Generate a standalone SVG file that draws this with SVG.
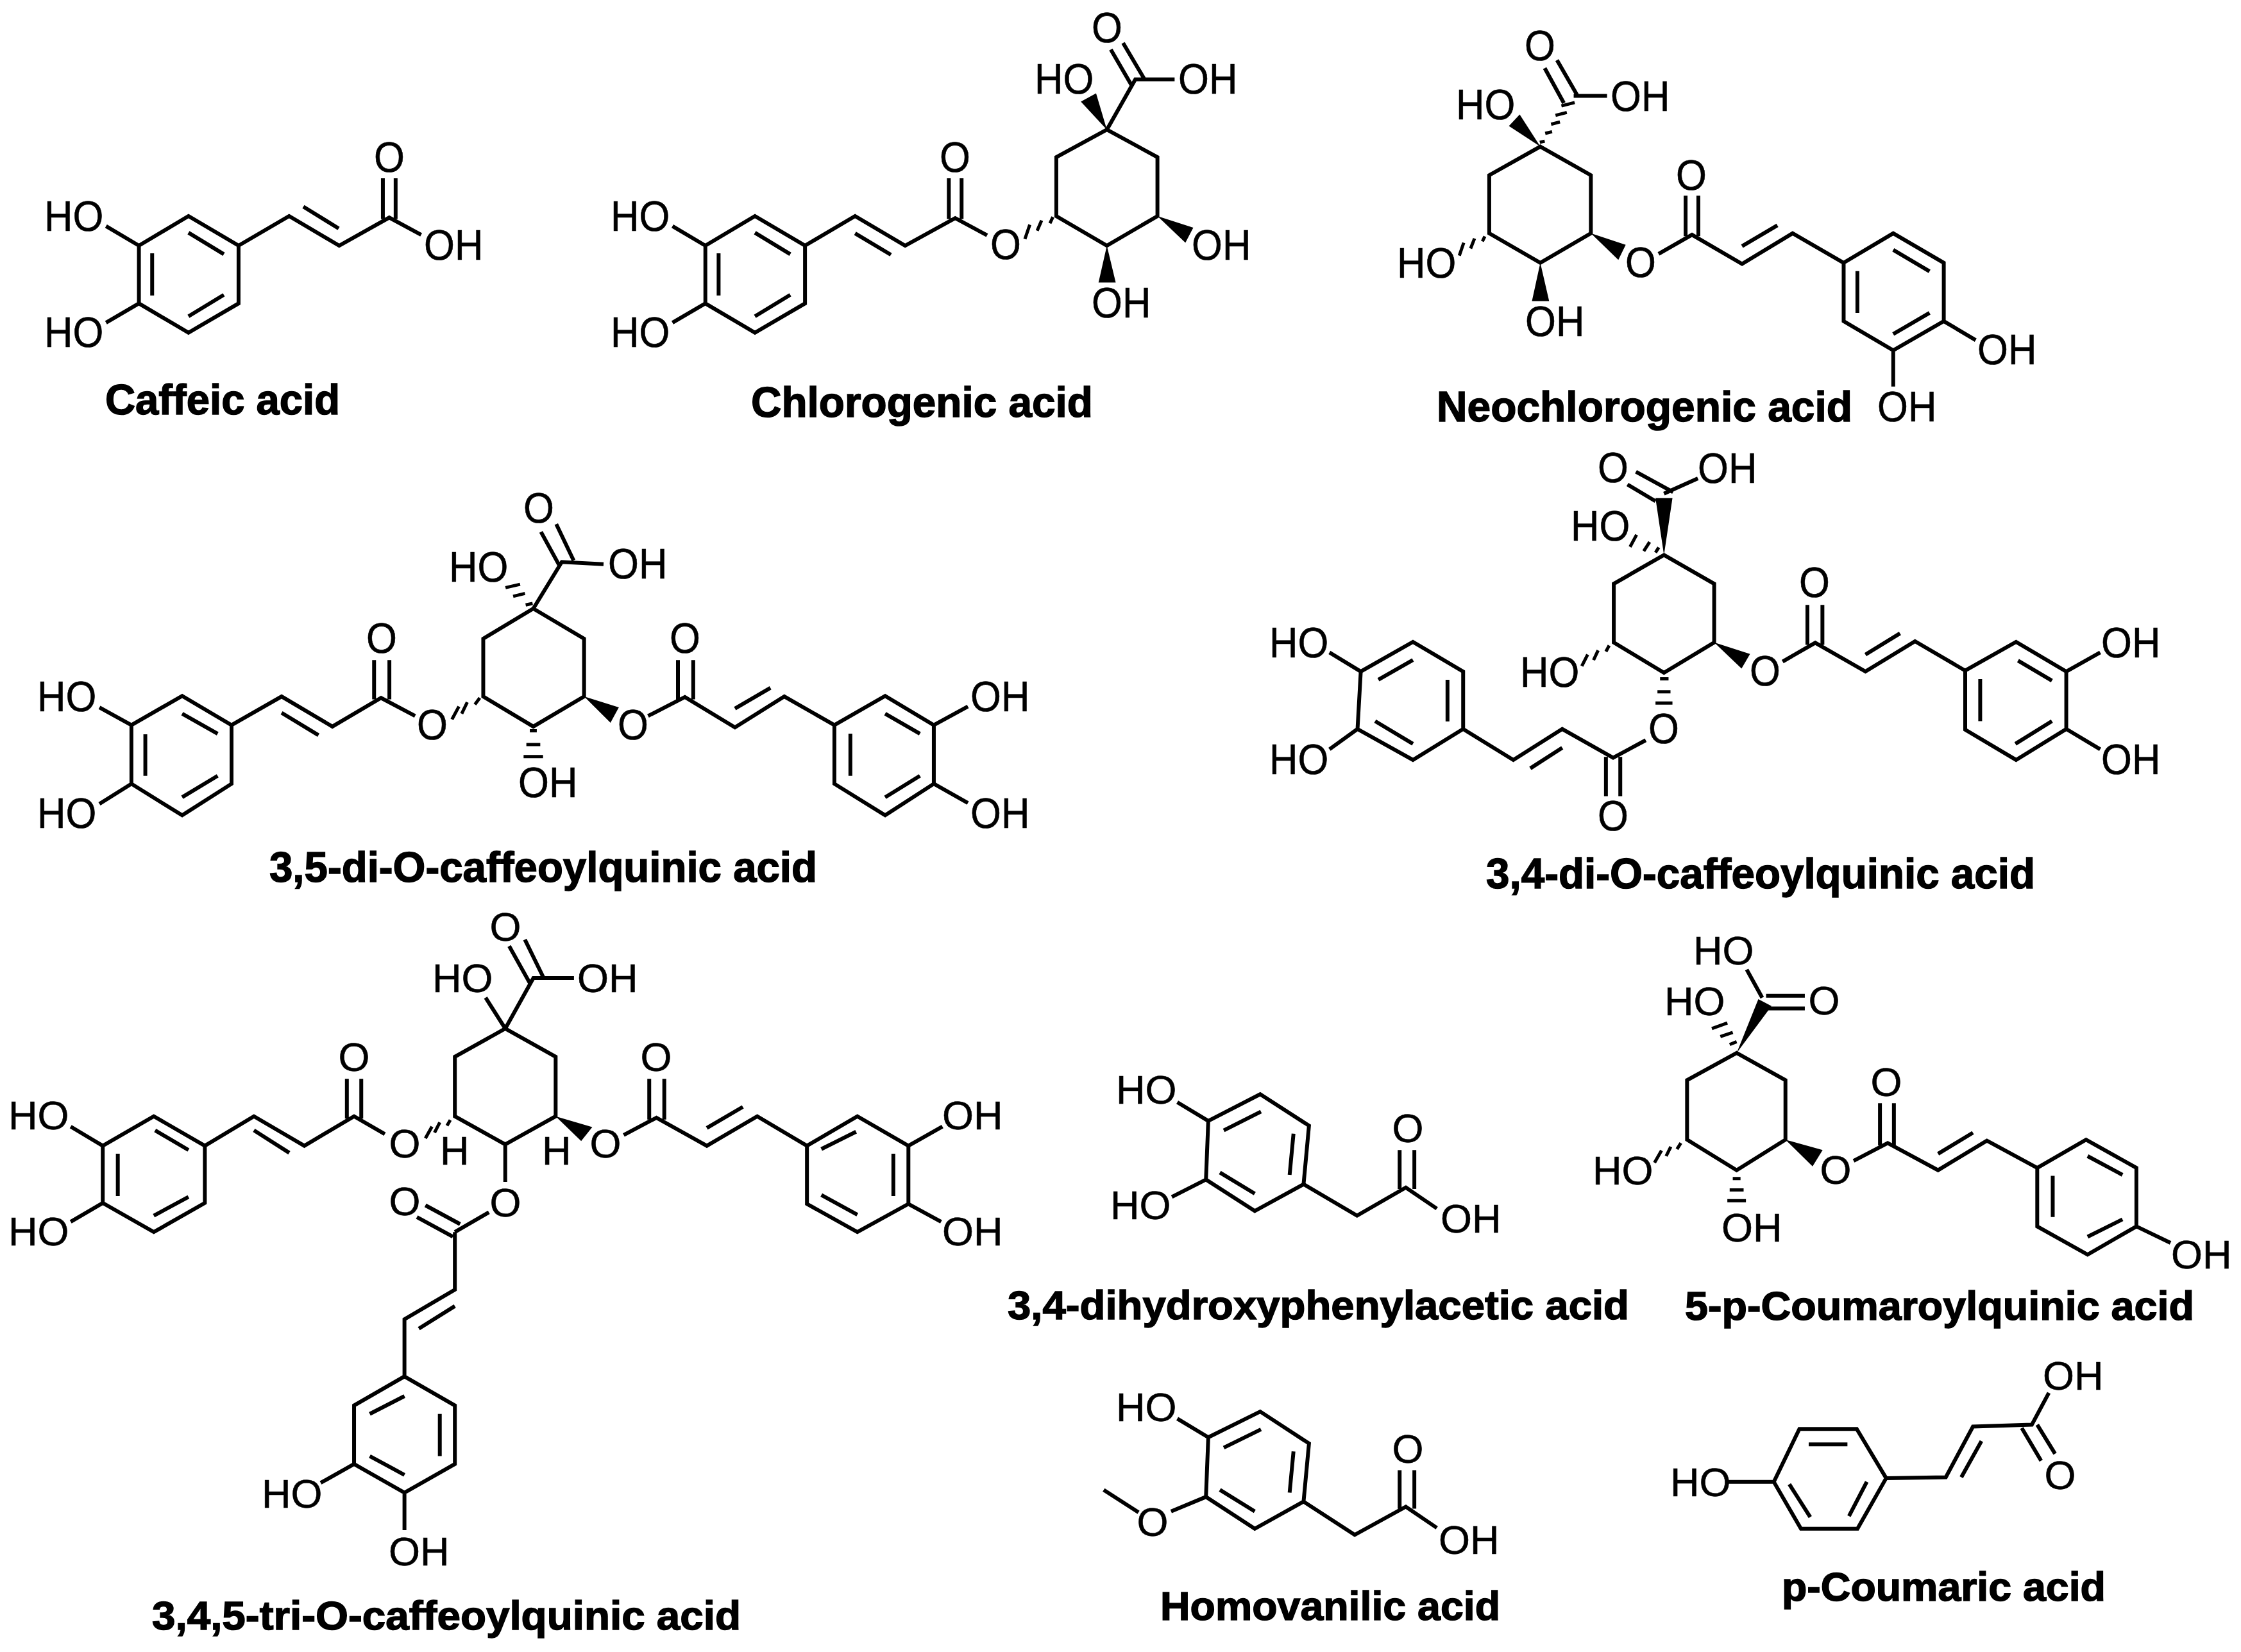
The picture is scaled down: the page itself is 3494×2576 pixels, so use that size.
<svg xmlns="http://www.w3.org/2000/svg" width="3494" height="2576" viewBox="0 0 3494 2576">
<style>
.b{fill:none;stroke:#000;stroke-width:6;vector-effect:non-scaling-stroke;stroke-linejoin:miter;stroke-linecap:butt}
.h{fill:none;stroke:#000;stroke-width:5;vector-effect:non-scaling-stroke}
.w{fill:#000;stroke:none}
text{font-family:"Liberation Sans",Arial,sans-serif;fill:#000}
.l{font-size:63px;stroke:#000;stroke-width:.6px}
.c{font-size:63px;text-anchor:middle;stroke:#000;stroke-width:.6px}
.t{font-size:63px;font-weight:bold;stroke:#000;stroke-width:1.5px}
.lg .l{font-size:67px;transform-box:fill-box;transform-origin:0 0;transform:scaleX(.92)}
.lg .c{font-size:67px;transform-box:fill-box;transform-origin:50% 50%;transform:scaleX(.92)}
.lg .t{font-size:67px}
</style>
<rect width="3494" height="2576" fill="#fff"/>

<g id="caffeic-acid" class="lg">
<g transform="matrix(.7653 0 0 .4464 0 0)">
<path class="b" d="M283,858L384,755L486,858L486,1060L384,1162L283,1060ZM310,885V1032M384,813L456,888M384,1105L456,1030M486,858L589,755L691,858L793,760L858,820M618,722L690,798M780,623V765M806,623V765M283,858L216,790M283,1060L216,1127"/>
</g>
<text class="l" x="69" y="360">HO</text><text class="l" x="69" y="541">HO</text><text class="c" x="607" y="268">O</text><text class="l" x="661" y="405">OH</text>
<text class="t" x="164" y="646" textLength="366" lengthAdjust="spacingAndGlyphs">Caffeic acid</text>
</g>

<g id="chlorogenic-acid" class="lg">
<g transform="matrix(.7653 0 0 .4464 1200 0)">
<path class="b" d="M-131,858L-30,755L72,858L72,1060L-30,1162L-131,1060ZM-104,885V1032M-30,813L42,888M-30,1105L42,1030M-131,858L-198,790M-131,1060L-198,1127M72,858L174,755L276,858L378,762L443,822M174,815L247,890M365,623V765M391,623V765M687,453L790,549L790,755L687,858L584,755L584,549ZM687,453L745,277L825,277M720,150L763,275M695,173L738,300"/>
<path class="h" d="M577,758L571,780M554,770L545,806M530,785L520,835"/>
<polygon class="w" points="687,453 634,355 665,326"/><polygon class="w" points="790,755 863,795 847,848"/><polygon class="w" points="687,858 670,987 705,987"/>
</g>
<text class="l" x="952" y="360">HO</text><text class="l" x="952" y="541">HO</text><text class="c" x="1489" y="268">O</text><text class="c" x="1568" y="404">O</text><text class="c" x="1726" y="66">O</text><text class="l" x="1613" y="146">HO</text><text class="l" x="1837" y="146">OH</text><text class="l" x="1858" y="405">OH</text><text class="l" x="1702" y="495">OH</text>
<text class="t" x="1171" y="650" textLength="533" lengthAdjust="spacingAndGlyphs">Chlorogenic acid</text>
</g>

<g id="neochlorogenic-acid" class="lg">
<g transform="matrix(.7653 0 0 .4464 2100 0)">
<path class="b" d="M394,512L497,612L497,815L394,918L290,815L290,612ZM462,335L530,335M428,210L470,335M403,238L442,360M635,887L703,820L805,922L908,815L1012,918M805,860L877,787M690,683V825M716,683V825M1012,918L1113,815L1216,918L1216,1122L1113,1224L1012,1122ZM1040,947V1093M1113,873L1187,948M1113,1167L1187,1093M1216,1122L1281,1188M1113,1224V1350"/>
<path class="h" d="M393,497L403,493M404,466L418,460M416,434L434,426M425,403L448,393M437,370L464,358M281,826L276,843M260,833L252,868M238,848L229,893"/>
<polygon class="w" points="394,512 330,440 352,400"/><polygon class="w" points="394,918 377,1052 412,1052"/><polygon class="w" points="497,815 568,855 553,908"/>
</g>
<text class="c" x="2401" y="94">O</text><text class="l" x="2511" y="173">OH</text><text class="l" x="2270" y="186">HO</text><text class="l" x="2178" y="433">HO</text><text class="l" x="2378" y="524">OH</text><text class="c" x="2558" y="432">O</text><text class="c" x="2637" y="296">O</text><text class="l" x="3083" y="568">OH</text><text class="l" x="2927" y="657">OH</text>
<text class="t" x="2240" y="657" textLength="648" lengthAdjust="spacingAndGlyphs">Neochlorogenic acid</text>
</g>

<g id="di-caffeoylquinic-3-5" class="lg">
<g transform="matrix(1.0841 0 0 .4464 0 720)">
<path class="b" d="M189,920L262,818L333,920L333,1125L262,1235L189,1125ZM209,952V1097M262,880L313,950M262,1172L313,1097M189,920L143,858M189,1125L143,1195M333,920L405,820L478,925L548,825L597,888M405,877L458,955M538,693V830M560,693V830M767,513L840,618L840,820L767,925L695,820L695,618ZM767,513L808,350L868,358M800,218L825,345M778,245L805,365M932,888L985,822L1057,928L1128,820L1200,920M1057,862L1108,790M975,693V830M997,693V830M1200,920L1273,818L1343,920L1343,1125L1273,1235L1200,1125ZM1223,950V1097M1273,880L1323,950M1273,1172L1323,1097M1343,920L1392,855M1343,1125L1392,1192"/>
<path class="h" d="M690,825L683,848M672,840L664,880M660,855L650,900M756,500L766,495M738,470L755,460M727,440L748,428M762,940H772M757,988H777M753,1030H781"/>
<polygon class="w" points="840,820 890,858 878,912"/>
</g>
<text class="l" x="58" y="1109">HO</text><text class="l" x="58" y="1291">HO</text><text class="c" x="595" y="1018">O</text><text class="c" x="674" y="1153">O</text><text class="l" x="700" y="907">HO</text><text class="c" x="840" y="815">O</text><text class="l" x="948" y="902">OH</text><text class="c" x="987" y="1153">O</text><text class="l" x="808" y="1243">OH</text><text class="c" x="1068" y="1018">O</text><text class="l" x="1513" y="1109">OH</text><text class="l" x="1513" y="1291">OH</text>
<text class="t" x="420" y="1375" textLength="854" lengthAdjust="spacingAndGlyphs">3,5-di-O-caffeoylquinic acid</text>
</g>

<g id="di-caffeoylquinic-3-4" class="lg">
<g transform="matrix(1.0166 0 0 .4719 1900 680)">
<path class="b" d="M683,393L760,488L760,682L683,782L606,682L606,488ZM683,190L735,140M640,118L697,185M627,160L670,215M655,1005L605,1063L527,968L452,1070L375,968M594,1060V1190M616,1060V1190M527,1030L478,1098M375,968L298,1070L213,968L218,778L298,680L375,778ZM351,805V943M298,740L245,805M298,1017L240,942M218,778L170,715M213,968L170,1035M865,745L915,683L992,778L1068,678L1145,775M992,722L1045,652M903,558V690M926,558V690M1145,775L1223,680L1300,778L1300,968L1223,1070L1145,970ZM1168,803V942M1226,742L1278,808M1222,1017L1278,942M1300,778L1352,715M1300,968L1352,1035"/>
<path class="h" d="M675,368L670,385M661,350L652,380M641,326L631,366M599,692L594,712M582,708L575,740M566,722L557,760M677,802H690M673,845H693M670,882H696"/>
<polygon class="w" points="683,393 670,205 696,205"/><polygon class="w" points="760,682 815,720 802,768"/>
</g>
<text class="c" x="2515" y="752">O</text><text class="l" x="2647" y="753">OH</text><text class="l" x="2449" y="843">HO</text><text class="l" x="2370" y="1071">HO</text><text class="c" x="2594" y="1159">O</text><text class="c" x="2515" y="1295">O</text><text class="l" x="1979" y="1025">HO</text><text class="l" x="1979" y="1207">HO</text><text class="c" x="2752" y="1069">O</text><text class="c" x="2829" y="931">O</text><text class="l" x="3276" y="1025">OH</text><text class="l" x="3276" y="1207">OH</text>
<text class="t" x="2317" y="1385" textLength="856" lengthAdjust="spacingAndGlyphs">3,4-di-O-caffeoylquinic acid</text>
</g>

<g id="tri-caffeoylquinic">
<g transform="matrix(1.0204 0 0 .7309 0 1430)">
<path class="b" d="M772,238L849,298L849,425L772,485L695,425L695,298ZM772,238L742,172M772,238L815,130L877,130M802,48L830,128M778,62L810,142M313,488L235,425L157,488L157,610L235,672L313,610ZM180,505V595M237,455L288,497M235,637L288,597M157,488L108,447M157,610L108,650M313,488L388,425L465,488L541,425L588,463M388,455L442,503M530,345V430M552,345V430M772,485V565M747,630L695,672M650,615L703,655M637,640L692,682M695,672V795L618,858V980M695,830L640,878M953,465L1003,428L1080,488L1157,425L1233,488M1080,450L1135,405M992,345V432M1015,345V432M1233,488L1310,425L1388,488L1388,612L1310,672L1233,612ZM1255,495L1308,458M1365,505V595M1255,593L1310,635M1388,488L1440,447M1388,612L1438,650M618,980L695,1042L695,1167L618,1228L541,1167L541,1042ZM672,1060V1150M565,1060L618,1022M565,1150L618,1190M541,1167L490,1207M618,1228V1308"/>
<path class="h" d="M688,433L683,445M672,438L664,460M660,447L650,472"/>
<polygon class="w" points="849,425 905,448 888,478"/>
</g>
<text class="l" x="674" y="1547">HO</text><text class="c" x="788" y="1467">O</text><text class="l" x="900" y="1547">OH</text><text class="l" x="13" y="1761">HO</text><text class="l" x="13" y="1942">HO</text><text class="c" x="552" y="1670">O</text><text class="c" x="631" y="1805">O</text><text class="l" x="686" y="1816">H</text><text class="l" x="845" y="1816">H</text><text class="c" x="944" y="1805">O</text><text class="c" x="788" y="1897">O</text><text class="c" x="631" y="1895">O</text><text class="c" x="1023" y="1670">O</text><text class="l" x="1469" y="1761">OH</text><text class="l" x="1469" y="1942">OH</text><text class="l" x="408" y="2351">HO</text><text class="l" x="606" y="2441">OH</text>
<text class="t" x="237" y="2541" textLength="918" lengthAdjust="spacingAndGlyphs">3,4,5-tri-O-caffeoylquinic acid</text>
</g>

<g id="dihydroxyphenylacetic-acid">
<g transform="matrix(1.2079 0 0 .7309 1600 1430)">
<path class="b" d="M235,435L302,378L365,445L358,570L295,627L232,560ZM345,462L340,550M303,415L255,455M295,590L250,545M235,435L195,395M232,560L188,597M358,570L427,637L490,577L530,622M482,497V580M501,497V580"/>
</g>
<text class="l" x="1740" y="1721">HO</text><text class="l" x="1731" y="1901">HO</text><text class="c" x="2195" y="1781">O</text><text class="l" x="2246" y="1922">OH</text>
<text class="t" x="1571" y="2057" textLength="969" lengthAdjust="spacingAndGlyphs">3,4-dihydroxyphenylacetic acid</text>
</g>

<g id="p-coumaroylquinic-5">
<g transform="matrix(1.2079 0 0 .7309 1600 1430)">
<path class="b" d="M917,290L980,348L980,475L917,540L853,475L853,348ZM950,172L930,112M955,168H1005M955,195H1005M1068,520L1112,482L1177,540L1240,477L1305,535M1177,505L1222,460M1102,397V487M1120,397V487M1305,535L1368,475L1433,535L1433,660L1370,720L1305,660ZM1325,552V640M1370,510L1415,550M1370,682L1415,645M1433,660L1477,695"/>
<path class="h" d="M908,272L917,266M896,255L912,246M885,238L905,226M845,482L840,495M832,490L826,510M820,498L811,524M912,558H922M908,582H926M905,605H929"/>
<polygon class="w" points="917,290 945,175 962,190"/><polygon class="w" points="980,475 1028,497 1015,532"/>
</g>
<text class="l" x="2640" y="1504">HO</text><text class="l" x="2595" y="1583">HO</text><text class="c" x="2844" y="1582">O</text><text class="l" x="2483" y="1847">HO</text><text class="l" x="2684" y="1936">OH</text><text class="c" x="2862" y="1846">O</text><text class="c" x="2941" y="1709">O</text><text class="l" x="3385" y="1978">OH</text>
<text class="t" x="2627" y="2058" textLength="794" lengthAdjust="spacingAndGlyphs">5-p-Coumaroylquinic acid</text>
</g>

<g id="homovanilic-acid">
<g transform="matrix(1.2079 0 0 .7309 1600 1430)">
<path class="b" d="M235,1110L302,1055L365,1123L358,1247L295,1305L232,1237ZM345,1140L340,1228M303,1093L255,1132M295,1268L250,1222M235,1110L195,1070M232,1237L187,1268M145,1270L100,1222M358,1247L424,1318L490,1258L530,1303M482,1180V1262M501,1180V1262"/>
</g>
<text class="l" x="1740" y="2216">HO</text><text class="c" x="1797" y="2395">O</text><text class="c" x="2195" y="2281">O</text><text class="l" x="2243" y="2423">OH</text>
<text class="t" x="1809" y="2526" textLength="530" lengthAdjust="spacingAndGlyphs">Homovanilic acid</text>
</g>

<g id="p-coumaric-acid">
<g transform="matrix(1.2079 0 0 .7309 1600 1430)">
<path class="b" d="M965,1205L998,1092L1072,1092L1110,1197L1073,1305L1000,1305ZM1010,1125H1060M985,1210L1012,1280M1085,1205L1062,1278M965,1205H905M1110,1197L1187,1195L1222,1087L1298,1083L1320,1015M1233,1118L1207,1195M1285,1090L1310,1160M1305,1083L1328,1145"/>
</g>
<text class="l" x="2604" y="2333">HO</text><text class="l" x="3185" y="2167">OH</text><text class="c" x="3212" y="2322">O</text>
<text class="t" x="2778" y="2496" textLength="505" lengthAdjust="spacingAndGlyphs">p-Coumaric acid</text>
</g>
</svg>
